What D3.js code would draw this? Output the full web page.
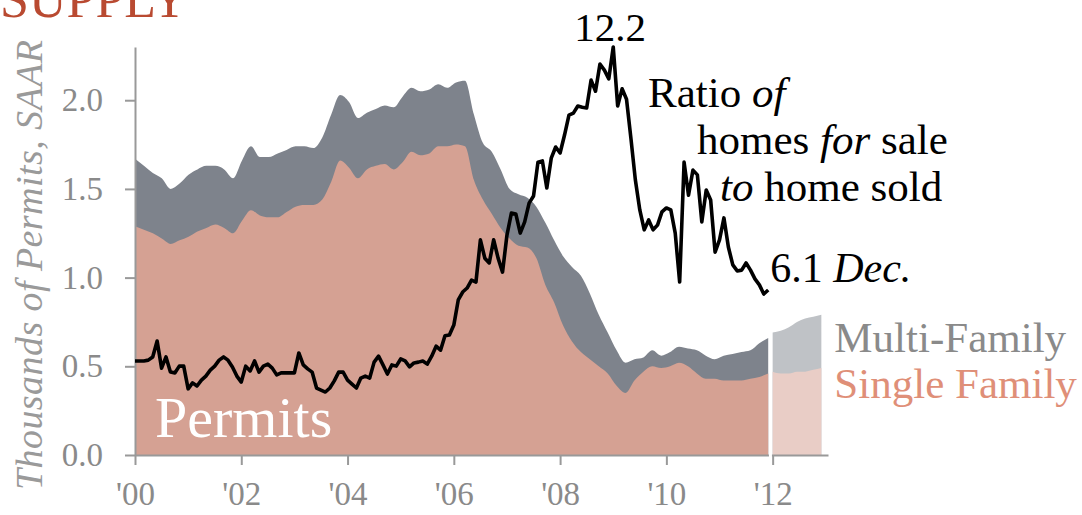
<!DOCTYPE html>
<html>
<head>
<meta charset="utf-8">
<script src="https://cdn.jsdelivr.net/npm/d3@7"></script>
<style>
body { margin: 0; background: #fff; }
svg text { font-family: "Liberation Serif", "Times New Roman", serif; }
.axis path, .axis line { stroke: #999; stroke-width: 2; }
.axis text { fill: #8a8a8a; font-size: 33px; font-family: "Liberation Serif", serif; }
</style>
</head>
<body>
<div id="chart"></div>
<script>
// permits, thousands SAAR, read every ~2 months Jan 2000 - Dec 2011
var totalPermits = [
  1.67, 1.63, 1.59, 1.56, 1.50, 1.53, 1.58, 1.61, 1.63, 1.63, 1.61, 1.56,
  1.66, 1.74, 1.68, 1.68, 1.70, 1.72, 1.74, 1.74, 1.73, 1.79, 1.92, 2.03,
  1.99, 1.90, 1.93, 1.95, 1.97, 1.96, 2.02, 2.07, 2.05, 2.06, 2.09, 2.07,
  2.10, 2.11, 1.92, 1.76, 1.71, 1.61, 1.50, 1.47, 1.45, 1.40, 1.31, 1.21,
  1.12, 1.06, 1.01, 0.91, 0.79, 0.69, 0.59, 0.52, 0.54, 0.55, 0.59, 0.56,
  0.58, 0.61, 0.60, 0.59, 0.56, 0.54, 0.56, 0.57, 0.58, 0.59, 0.63, 0.66
];
var singlePermits = [
  1.29, 1.27, 1.25, 1.22, 1.19, 1.21, 1.23, 1.26, 1.28, 1.30, 1.28, 1.25,
  1.32, 1.38, 1.35, 1.34, 1.34, 1.37, 1.40, 1.41, 1.41, 1.44, 1.54, 1.66,
  1.62, 1.56, 1.61, 1.63, 1.64, 1.61, 1.65, 1.71, 1.69, 1.70, 1.74, 1.74,
  1.75, 1.74, 1.55, 1.44, 1.36, 1.28, 1.22, 1.18, 1.17, 1.11, 0.96, 0.86,
  0.73, 0.64, 0.58, 0.54, 0.50, 0.46, 0.39, 0.35, 0.42, 0.47, 0.50, 0.49,
  0.50, 0.52, 0.50, 0.46, 0.43, 0.43, 0.42, 0.42, 0.42, 0.43, 0.44, 0.46
];

// 2012 projection
var projTotal = [0.69, 0.70, 0.72, 0.75, 0.77, 0.78, 0.79];
var projSingle = [0.47, 0.46, 0.46, 0.47, 0.47, 0.48, 0.49];

// ratio of homes for sale to homes sold, monthly Jan 2000 - Dec 2011
var ratioValues = [
  4.32, 4.32, 4.32, 4.34, 4.42, 4.82, 4.14, 4.42, 4.04, 4.02, 4.19, 4.19,
  3.62, 3.77, 3.69, 3.84, 3.94, 4.09, 4.19, 4.34, 4.42, 4.34, 4.17, 3.94,
  3.79, 4.19, 4.07, 4.32, 4.04, 4.19, 4.24, 4.14, 3.97, 4.02, 4.02, 4.02,
  4.02, 4.52, 4.22, 4.12, 4.04, 3.64, 3.59, 3.54, 3.64, 3.82, 4.04, 4.04,
  3.84, 3.74, 3.64, 3.89, 3.94, 3.89, 4.29, 4.44, 4.22, 3.99, 4.22, 4.19,
  4.37, 4.32, 4.17, 4.27, 4.29, 4.32, 4.24, 4.44, 4.69, 4.59, 4.95, 4.97,
  5.22, 5.85, 6.05, 6.15, 6.35, 6.30, 7.36, 6.90, 6.78, 7.36, 6.90, 6.55,
  7.48, 8.03, 8.01, 7.53, 7.81, 8.28, 8.46, 9.31, 9.34, 8.66, 9.41, 9.69,
  9.54, 9.99, 10.49, 10.54, 10.72, 10.69, 10.67, 11.37, 11.09, 11.77, 11.62, 11.40,
  12.2, 10.72, 11.15, 10.89, 9.90, 8.86, 8.11, 7.61, 7.86, 7.61, 7.73, 8.06,
  8.16, 8.11, 7.53, 6.30, 9.31, 8.48, 9.11, 8.99, 7.81, 8.61, 8.36, 7.05,
  7.36, 7.91, 7.18, 6.73, 6.58, 6.60, 6.78, 6.60, 6.38, 6.23, 6.00, 6.10
];

var yearTicks = [0, 2, 4, 6, 8, 10, 12];
var yTicks = [0, 0.5, 1.0, 1.5, 2.0];

// set width and height
var svgWidth = 1082;
var svgHeight = 515;

var margin = {
  top: 47,
  right: 254,
  bottom: 60,
  left: 135
};

var width = svgWidth - margin.left - margin.right;
var height = svgHeight - margin.top - margin.bottom;

var svg = d3.select("#chart")
  .append("svg")
  .attr("width", svgWidth)
  .attr("height", svgHeight);

var chartGroup = svg.append("g")
  .attr("transform", `translate(${margin.left}, ${margin.top})`);

// months since Jan 2000
var histData = totalPermits.map(function(t, i) {
  return {m: i * 143 / 71, total: t, single: singlePermits[i]};
});
var projData = projTotal.map(function(t, i) {
  return {m: 144 + i * 11 / 6, total: t, single: projSingle[i]};
});
var ratioData = ratioValues.map(function(v, i) {
  return {m: i, v: v};
});

// scales
var xScale = d3.scaleLinear().domain([0, 156.5]).range([0, width]);
var yScale = d3.scaleLinear().domain([0, 2.3]).range([height, 0]);
var ratioScale = d3.scaleLinear()
  .domain([6.1, 12.2])
  .range([yScale(0.93), yScale(2.3)]);

var totalArea = d3.area()
  .x(d => xScale(d.m))
  .y0(height)
  .y1(d => yScale(d.total))
  .curve(d3.curveMonotoneX);

var singleArea = d3.area()
  .x(d => xScale(d.m))
  .y0(height)
  .y1(d => yScale(d.single))
  .curve(d3.curveMonotoneX);

// areas
chartGroup.append("path").datum(histData).attr("d", totalArea).attr("fill", "#7e838c");
chartGroup.append("path").datum(histData).attr("d", singleArea).attr("fill", "#d5a193");
chartGroup.append("path").datum(projData).attr("d", totalArea).attr("fill", "#bfc2c6");
chartGroup.append("path").datum(projData).attr("d", singleArea).attr("fill", "#e9cdc6");

// axes
var leftAxis = d3.axisLeft(yScale)
  .tickValues(yTicks)
  .tickFormat(d3.format(".1f"))
  .tickSize(10)
  .tickSizeOuter(0)
  .tickPadding(22);

var bottomAxis = d3.axisBottom(xScale)
  .tickValues(yearTicks.map(d => d * 12))
  .tickFormat(d => "'" + d3.format("02")(d / 12))
  .tickSize(10)
  .tickSizeOuter(0)
  .tickPadding(17);

chartGroup.append("g")
  .classed("axis", true)
  .call(leftAxis);

chartGroup.append("g")
  .classed("axis", true)
  .attr("transform", `translate(0, ${height})`)
  .call(bottomAxis);

// white gap between actual and projection
var gapX = (xScale(143) + xScale(144)) / 2;
chartGroup.append("line")
  .attr("x1", gapX)
  .attr("x2", gapX)
  .attr("y1", yScale(projTotal[0]) - 2)
  .attr("y2", height + 10)
  .attr("stroke", "#fff")
  .attr("stroke-width", 3);

// ratio line
var ratioLine = d3.line()
  .x(d => xScale(d.m))
  .y(d => ratioScale(d.v));

chartGroup.append("path")
  .datum(ratioData)
  .attr("d", ratioLine)
  .attr("fill", "none")
  .attr("stroke", "#000")
  .attr("stroke-width", 3.6)
  .attr("stroke-linejoin", "round");

// title, cut at the top like the source
svg.append("text")
  .attr("x", 0)
  .attr("y", 17)
  .attr("font-size", "52px")
  .attr("fill", "#b94a31")
  .text("SUPPLY");

// y axis title
svg.append("text")
  .attr("transform", "rotate(-90)")
  .attr("x", -265)
  .attr("y", 42)
  .attr("text-anchor", "middle")
  .attr("font-size", "38px")
  .attr("font-style", "italic")
  .attr("fill", "#9a9a9a")
  .attr("textLength", 450)
  .attr("lengthAdjust", "spacing")
  .text("Thousands of Permits, SAAR");

chartGroup.append("text")
  .attr("x", 20)
  .attr("y", height - 18)
  .attr("font-size", "58px")
  .attr("fill", "#fff")
  .text("Permits");

// peak and end labels
var peakIdx = d3.maxIndex(ratioValues);
chartGroup.append("text")
  .attr("x", xScale(peakIdx) - 3)
  .attr("y", ratioScale(ratioValues[peakIdx]) - 6)
  .attr("text-anchor", "middle")
  .attr("font-size", "41px")
  .attr("fill", "#000")
  .text(d3.format(".1f")(ratioValues[peakIdx]));

var lastIdx = ratioValues.length - 1;
var endLabel = chartGroup.append("text")
  .attr("x", xScale(lastIdx) + 2)
  .attr("y", ratioScale(ratioValues[lastIdx]) - 8)
  .attr("font-size", "42px")
  .attr("fill", "#000");
endLabel.append("tspan").text(d3.format(".1f")(ratioValues[lastIdx]) + " ");
endLabel.append("tspan").attr("font-style", "italic").text("Dec.");

// ratio label
var ratioLabel = [
  [["Ratio ", false], ["of", true]],
  [["homes ", false], ["for", true], [" sale", false]],
  [["to", true], [" home sold", false]]
];
var ratioLabelX = [513, 562, 585];
ratioLabel.forEach(function(line, i) {
  var t = chartGroup.append("text")
    .attr("x", ratioLabelX[i])
    .attr("y", 60 + i * 47)
    .attr("font-size", "43px")
    .attr("fill", "#000");
  line.forEach(function(p) {
    t.append("tspan")
      .attr("font-style", p[1] ? "italic" : "normal")
      .text(p[0]);
  });
});

// legend
chartGroup.append("text")
  .attr("x", xScale(155) + 13)
  .attr("y", yScale(0.58))
  .attr("font-size", "43px")
  .attr("fill", "#8a8a8a")
  .text("Multi-Family");

chartGroup.append("text")
  .attr("x", xScale(155) + 13)
  .attr("y", yScale(0.32))
  .attr("font-size", "43px")
  .attr("fill", "#df8f78")
  .text("Single Family");
</script>
</body>
</html>
